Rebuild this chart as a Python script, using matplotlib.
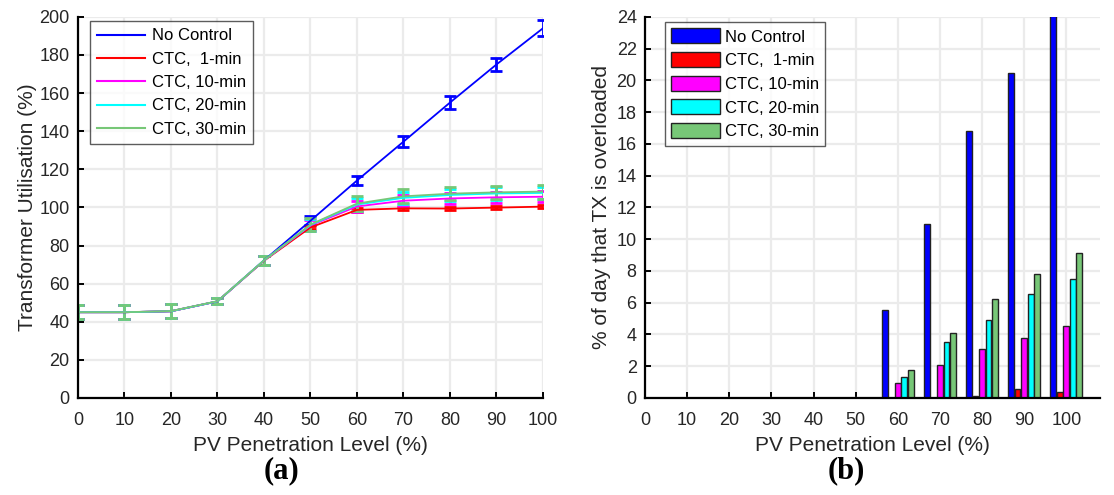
import matplotlib
matplotlib.use("Agg")
import matplotlib.pyplot as plt
import numpy as np

plt.rcParams['font.family'] = ['Liberation Sans', 'DejaVu Sans']

# PV penetration levels (%)
pv_levels = [0, 10, 20, 30, 40, 50, 60, 70, 80, 90, 100]
series_names = ["No Control", "CTC,  1-min", "CTC, 10-min", "CTC, 20-min", "CTC, 30-min"]
series_colors = ["#0000ff", "#ff0000", "#ff00ff", "#00ffff", "#77c777"]

# Transformer utilisation (%) mean values
util_no_control = [45.0, 45.0, 45.5, 50.7, 72.2, 93.0, 114.1, 134.5, 155.0, 175.0, 194.0]
util_ctc_1 = [45.0, 45.0, 45.5, 50.7, 72.0, 89.5, 98.7, 99.5, 99.4, 99.9, 100.4]
util_ctc_10 = [45.0, 45.0, 45.5, 50.7, 72.1, 90.5, 100.5, 103.5, 104.7, 105.3, 105.6]
util_ctc_20 = [45.0, 45.0, 45.5, 50.7, 72.2, 90.8, 101.5, 105.0, 106.5, 107.3, 107.6]
util_ctc_30 = [45.0, 45.0, 45.6, 50.8, 72.2, 91.0, 102.0, 105.8, 107.2, 107.9, 108.3]

# Error bar half-widths
err_no_control = [3.6, 3.6, 3.7, 1.5, 2.4, 2.3, 2.6, 3.0, 3.4, 3.3, 4.2]
err_ctc_1 = [3.6, 3.6, 3.7, 1.5, 2.4, 1.0, 1.0, 0.8, 0.8, 0.8, 0.8]
err_ctc_10 = [3.6, 3.6, 3.7, 1.5, 2.4, 3.0, 3.0, 3.0, 3.0, 3.0, 3.0]
err_ctc_20 = [3.6, 3.6, 3.7, 1.5, 2.4, 3.2, 3.5, 3.3, 3.3, 3.3, 3.3]
err_ctc_30 = [3.6, 3.6, 3.7, 1.5, 2.4, 3.3, 4.0, 3.6, 3.5, 3.5, 3.7]

# Share of day with transformer overloaded (%)
over_no_control = [0, 0, 0, 0, 0, 0, 5.54, 10.96, 16.84, 20.47, 24.3]
over_ctc_1 = [0, 0, 0, 0, 0, 0, 0.0, 0.0, 0.13, 0.59, 0.36]
over_ctc_10 = [0, 0, 0, 0, 0, 0, 0.92, 2.08, 3.07, 3.76, 4.54]
over_ctc_20 = [0, 0, 0, 0, 0, 0, 1.34, 3.51, 4.91, 6.53, 7.48]
over_ctc_30 = [0, 0, 0, 0, 0, 0, 1.76, 4.07, 6.24, 7.79, 9.11]

util_series = [util_no_control, util_ctc_1, util_ctc_10, util_ctc_20, util_ctc_30]
err_series = [err_no_control, err_ctc_1, err_ctc_10, err_ctc_20, err_ctc_30]
over_series = [over_no_control, over_ctc_1, over_ctc_10, over_ctc_20, over_ctc_30]

text_col = "#262626"
grid_col = "#ebebeb"

fig = plt.figure(figsize=(11.14, 4.95), dpi=100)
ax1 = fig.add_axes([0.070, 0.196, 0.4174, 0.770])
ax2 = fig.add_axes([0.579, 0.196, 0.4084, 0.770])


def style_axes(ax):
    ax.spines['top'].set_visible(False)
    ax.spines['right'].set_visible(False)
    for s in ('left', 'bottom'):
        ax.spines[s].set_linewidth(1.6)
        ax.spines[s].set_color('black')
    ax.tick_params(direction='in', length=4.5, width=1.4, labelsize=13,
                   labelcolor=text_col, color='black')
    ax.tick_params(axis='x', pad=10)
    ax.tick_params(axis='y', pad=6)
    ax.grid(True, color=grid_col, linewidth=1.6)
    ax.set_axisbelow(True)


# Panel (a): utilisation curves with error bars
style_axes(ax1)
x = np.array(pv_levels)
for vals, errs, col, name in zip(util_series, err_series, series_colors, series_names):
    ax1.errorbar(x, vals, yerr=errs, color=col, linewidth=1.3, elinewidth=2.0,
                 capsize=4.6, capthick=2.0, label=name)
ax1.set_xlim(0, 100)
ax1.set_ylim(0, 200)
ax1.set_xticks(range(0, 101, 10))
ax1.set_yticks(range(0, 201, 20))
ax1.set_xlabel("PV Penetration Level (%)", fontsize=15, color=text_col, labelpad=5)
ax1.set_ylabel("Transformer Utilisation (%)", fontsize=15, color=text_col, labelpad=1.5)
labels1 = ax1.get_legend_handles_labels()[1]
leg1 = ax1.legend([plt.Line2D([], [], color=c, linewidth=1.5) for c in series_colors],
                  labels1, loc='upper left', bbox_to_anchor=(0.026, 0.988),
                  fontsize=12, frameon=True, fancybox=False, handlelength=2.9,
                  handletextpad=0.4, borderpad=0.42, labelspacing=0.5,
                  borderaxespad=0.0)
leg1.get_frame().set_edgecolor('#333333')
leg1.get_frame().set_linewidth(1.0)

# Panel (b): grouped bars of overloading duration
style_axes(ax2)
bar_w = 1.35
step = 1.55
for i, (vals, col, name) in enumerate(zip(over_series, series_colors, series_names)):
    ax2.bar(x + (i - 2) * step, vals, width=bar_w, color=col, edgecolor='#222222',
            linewidth=1.0, label=name, zorder=2)
ax2.set_xlim(0, 108)
ax2.set_ylim(0, 24)
ax2.set_xticks(range(0, 101, 10))
ax2.set_yticks(range(0, 25, 2))
ax2.set_xlabel("PV Penetration Level (%)", fontsize=15, color=text_col, labelpad=5)
ax2.set_ylabel("% of day that TX is overloaded", fontsize=15, color=text_col, labelpad=4)
leg2 = ax2.legend(loc='upper left', bbox_to_anchor=(0.044, 0.986),
                  fontsize=12, frameon=True, fancybox=False, handlelength=2.9,
                  handleheight=1.0, handletextpad=0.3, borderpad=0.38,
                  labelspacing=0.45, borderaxespad=0.0)
leg2.get_frame().set_edgecolor('#333333')
leg2.get_frame().set_linewidth(1.0)

# Panel captions
fig.text(0.2525, 0.05, "(a)", ha='center', va='center', fontsize=22,
         fontweight='bold', family=['Liberation Serif', 'DejaVu Serif'])
fig.text(0.7595, 0.05, "(b)", ha='center', va='center', fontsize=22,
         fontweight='bold', family=['Liberation Serif', 'DejaVu Serif'])

fig.savefig("out.png", dpi=100)
